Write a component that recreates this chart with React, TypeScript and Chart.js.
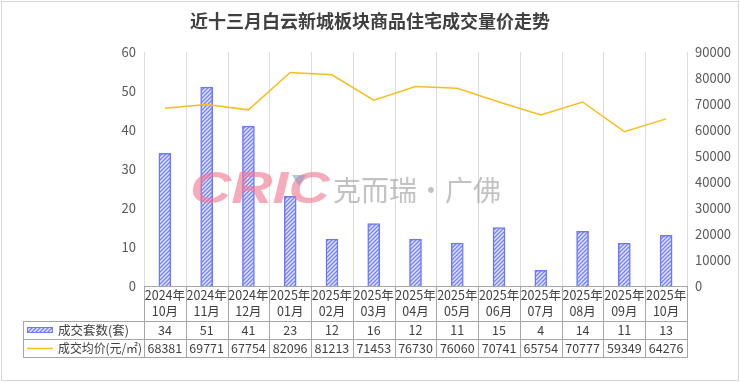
import React, { useEffect, useRef } from 'react';
import { Chart, registerables } from 'chart.js';

Chart.register(...registerables);

const titleText = '近十三月白云新城板块商品住宅成交量价走势';
const years = ['2024年', '2024年', '2024年', '2025年', '2025年', '2025年', '2025年', '2025年', '2025年', '2025年', '2025年', '2025年', '2025年'];
const months = ['10月', '11月', '12月', '01月', '02月', '03月', '04月', '05月', '06月', '07月', '08月', '09月', '10月'];
const deals = [34, 51, 41, 23, 12, 16, 12, 11, 15, 4, 14, 11, 13];
const prices = [68381, 69771, 67754, 82096, 81213, 71453, 76730, 76060, 70741, 65754, 70777, 59349, 64276];
const seriesNames = ['成交套数(套)', '成交均价(元/㎡)'];
const leftAxis = { min: 0, max: 60, step: 10 };
const rightAxis = { min: 0, max: 90000, step: 10000 };

const FONT = '"Noto Sans CJK SC", "Noto Sans", sans-serif';
const TEXT = '#404040';
const BAR_BORDER = '#6b79f8';
const LINE_COLOR = '#F8BE1E';

function makePattern(ctx: CanvasRenderingContext2D) {
  const c = document.createElement('canvas');
  c.width = 4;
  c.height = 4;
  const p = c.getContext('2d')!;
  p.fillStyle = '#e6e8ff';
  p.fillRect(0, 0, 4, 4);
  p.strokeStyle = '#7482f8';
  p.lineWidth = 1.4;
  p.beginPath();
  p.moveTo(0, 4); p.lineTo(4, 0);
  p.moveTo(-1, 1); p.lineTo(1, -1);
  p.moveTo(3, 5); p.lineTo(5, 3);
  p.stroke();
  return ctx.createPattern(c, 'repeat')!;
}

function fitText(ctx: CanvasRenderingContext2D, text: string, x: number, y: number, maxW: number) {
  const w = ctx.measureText(text).width;
  if (w <= maxW) {
    ctx.fillText(text, x, y);
    return;
  }
  ctx.save();
  ctx.translate(x, y);
  ctx.scale(maxW / w, 1);
  ctx.fillText(text, 0, 0);
  ctx.restore();
}

const tablePlugin = {
  id: 'dataTable',
  beforeDraw(chart: any) {
    const ctx = chart.ctx as CanvasRenderingContext2D;
    ctx.save();
    ctx.fillStyle = '#ffffff';
    ctx.fillRect(0, 0, chart.width, chart.height);
    ctx.strokeStyle = '#d6d6d6';
    ctx.lineWidth = 1;
    ctx.strokeRect(1.5, 1.5, chart.width - 3, chart.height - 3);
    ctx.restore();
  },
  beforeDatasetsDraw(chart: any) {
    const ctx = chart.ctx as CanvasRenderingContext2D;
    const area = chart.chartArea;
    const n = years.length;
    const w = (area.right - area.left) / n;
    ctx.save();
    ctx.strokeStyle = '#dcdcdc';
    ctx.lineWidth = 1;
    for (let i = 0; i <= n; i++) {
      const x = Math.round(area.left + i * w) + 0.5;
      ctx.beginPath();
      ctx.moveTo(x, area.top);
      ctx.lineTo(x, area.bottom);
      ctx.stroke();
    }
    ctx.restore();
  },
  afterDatasetsDraw(chart: any) {
    const ctx = chart.ctx as CanvasRenderingContext2D;
    // watermark
    ctx.save();
    ctx.globalAlpha = 0.62;
    ctx.fillStyle = '#f07890';
    ctx.font = 'italic 900 44px "Liberation Sans", "DejaVu Sans", sans-serif';
    ctx.textBaseline = 'middle';
    ctx.translate(190, 191);
    ctx.scale(1.3, 1);
    ctx.fillText('CRIC', 0, 0);
    ctx.restore();
    ctx.save();
    ctx.globalAlpha = 0.6;
    ctx.fillStyle = '#8a9bc0';
    ctx.beginPath();
    ctx.moveTo(292, 175);
    ctx.lineTo(306, 175);
    ctx.lineTo(299, 186);
    ctx.closePath();
    ctx.fill();
    ctx.fillStyle = '#9a9a9a';
    ctx.font = `28px ${FONT}`;
    ctx.textBaseline = 'middle';
    ctx.fillText('克而瑞·广佛', 333, 190);
    ctx.restore();
  },
  afterDraw(chart: any) {
    const ctx = chart.ctx as CanvasRenderingContext2D;
    const area = chart.chartArea;
    const n = years.length;
    const w = (area.right - area.left) / n;
    const top = area.bottom;
    const r1 = 321;
    const r2 = 339;
    const r3 = 357;
    const leftX = 23;
    ctx.save();
    ctx.strokeStyle = '#a6a6a6';
    ctx.lineWidth = 1;
    const hl = (y: number, x0: number, x1: number) => {
      ctx.beginPath();
      ctx.moveTo(x0, Math.round(y) + 0.5);
      ctx.lineTo(x1, Math.round(y) + 0.5);
      ctx.stroke();
    };
    const vl = (x: number, y0: number, y1: number) => {
      ctx.beginPath();
      ctx.moveTo(Math.round(x) + 0.5, y0);
      ctx.lineTo(Math.round(x) + 0.5, y1);
      ctx.stroke();
    };
    hl(top, area.left, area.right + 1);
    hl(r1, leftX, area.right + 1);
    hl(r2, leftX, area.right + 1);
    hl(r3, leftX, area.right + 1);
    vl(leftX, r1, r3 + 1);
    for (let i = 0; i <= n; i++) {
      vl(area.left + i * w, top, r3 + 1);
    }
    ctx.fillStyle = TEXT;
    ctx.font = `12.5px ${FONT}`;
    ctx.textAlign = 'center';
    ctx.textBaseline = 'middle';
    for (let i = 0; i < n; i++) {
      const cx = area.left + (i + 0.5) * w;
      ctx.fillText(years[i], cx, 295.5);
      ctx.fillText(months[i], cx, 311);
      ctx.fillText(String(deals[i]), cx, 330);
      ctx.fillText(String(prices[i]), cx, 348.5);
    }
    // legend cells
    ctx.textAlign = 'left';
    ctx.font = `12.5px ${FONT}`;
    fitText(ctx, seriesNames[0], 58, 330, 84);
    fitText(ctx, seriesNames[1], 58, 348.5, 84);
    ctx.fillStyle = makePattern(ctx);
    ctx.fillRect(27, 327, 25, 6);
    ctx.strokeStyle = BAR_BORDER;
    ctx.strokeRect(27.5, 327.5, 25, 5);
    ctx.strokeStyle = LINE_COLOR;
    ctx.lineWidth = 1.5;
    ctx.beginPath();
    ctx.moveTo(27, 348.5);
    ctx.lineTo(53, 348.5);
    ctx.stroke();
    ctx.restore();
  },
};

export default function App() {
  const ref = useRef<HTMLCanvasElement | null>(null);
  useEffect(() => {
    document.body.style.margin = '0';
    const canvas = ref.current!;
    const ctx = canvas.getContext('2d')!;
    const pattern = makePattern(ctx);
    const chart = new Chart(ctx, {
      type: 'bar',
      data: {
        labels: months.map((m, i) => years[i] + m),
        datasets: [
          {
            type: 'line',
            label: seriesNames[1],
            data: prices,
            yAxisID: 'y1',
            borderColor: LINE_COLOR,
            backgroundColor: LINE_COLOR,
            borderWidth: 1.5,
            pointRadius: 0,
            tension: 0,
            order: 0,
          } as any,
          {
            type: 'bar',
            label: seriesNames[0],
            data: deals,
            yAxisID: 'y',
            backgroundColor: pattern,
            borderColor: BAR_BORDER,
            borderWidth: 1.5,
            barThickness: 12,
            order: 1,
          },
        ],
      },
      options: {
        responsive: false,
        animation: false,
        layout: { padding: { left: 0, right: 0, top: 0, bottom: 96 } },
        plugins: {
          legend: { display: false },
          tooltip: { enabled: false },
          title: {
            display: true,
            text: titleText,
            color: TEXT,
            font: { family: FONT, size: 18, weight: 'bold' },
            padding: { top: 10, bottom: 20.4 },
          },
        },
        scales: {
          x: { display: false, offset: true },
          y: {
            position: 'left',
            min: leftAxis.min,
            max: leftAxis.max,
            ticks: { stepSize: leftAxis.step, color: '#595959', font: { family: FONT, size: 13 }, padding: 8, callback: (v: any) => String(v) },
            grid: { display: false, drawTicks: false },
            border: { display: false },
            afterFit: (s: any) => { s.width = 144; },
          },
          y1: {
            position: 'right',
            min: rightAxis.min,
            max: rightAxis.max,
            ticks: { stepSize: rightAxis.step, color: '#595959', font: { family: FONT, size: 13 }, padding: 8, callback: (v: any) => String(v) },
            grid: { display: false, drawTicks: false },
            border: { display: false },
            afterFit: (s: any) => { s.width = 53; },
          },
        },
      },
      plugins: [tablePlugin],
    });
    return () => chart.destroy();
  }, []);
  return <canvas ref={ref} width={740} height={382} style={{ display: 'block' }} />;
}
